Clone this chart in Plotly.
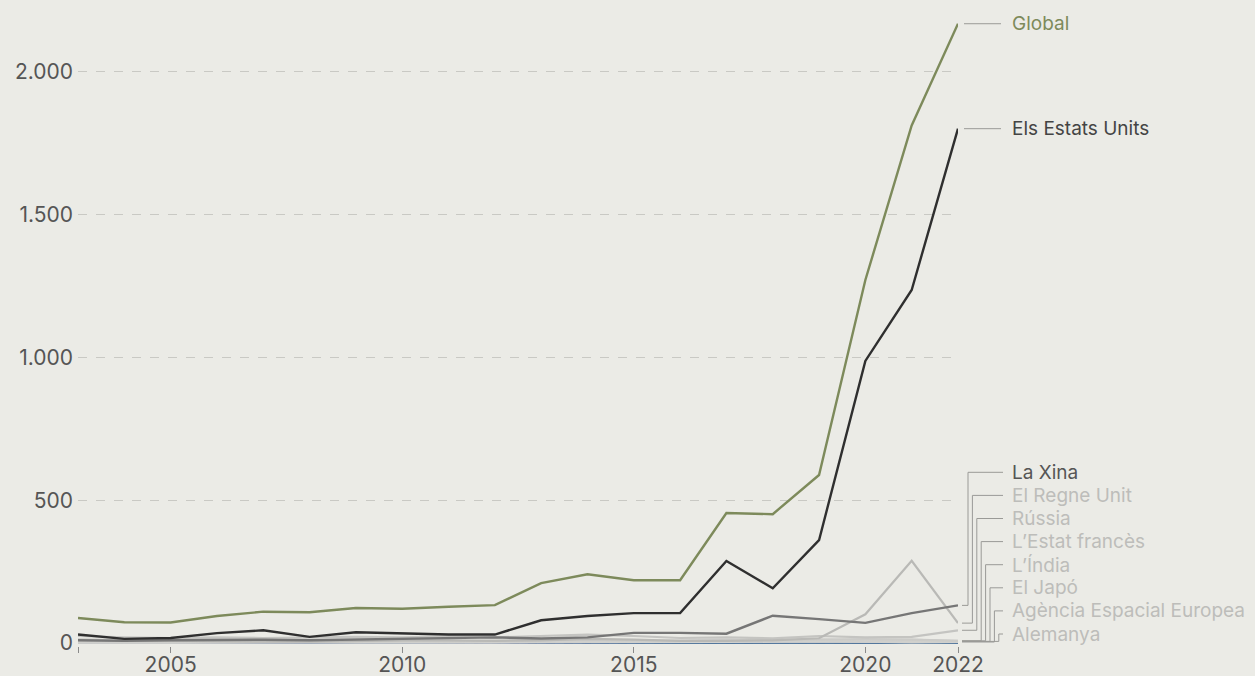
import plotly.graph_objects as go

years = list(range(2003, 2023))

global_vals = [88, 73, 72, 95, 110, 108, 123, 120, 127, 133, 210, 241, 220, 220, 455, 451, 588, 1270, 1810, 2166]
us_vals = [30, 15, 18, 35, 45, 22, 38, 34, 30, 30, 80, 95, 105, 105, 287, 192, 360, 987, 1235, 1799]
china_vals = [10, 8, 10, 12, 12, 10, 12, 16, 18, 20, 16, 20, 36, 36, 33, 96, 84, 71, 105, 132]
uk_vals = [12, 10, 8, 6, 5, 5, 8, 10, 10, 8, 10, 15, 12, 8, 8, 10, 17, 101, 288, 70]
russia_vals = [25, 20, 18, 20, 18, 20, 22, 20, 24, 20, 25, 30, 25, 18, 20, 17, 25, 20, 22, 45]
france_vals = [10, 8, 8, 6, 8, 8, 10, 10, 6, 8, 10, 12, 10, 8, 10, 12, 14, 14, 12, 8]
india_vals = [2, 2, 2, 2, 2, 2, 2, 3, 4, 4, 4, 5, 5, 8, 10, 7, 10, 5, 10, 8]
japan_vals = [4, 3, 3, 4, 5, 5, 6, 4, 5, 4, 5, 6, 6, 8, 8, 10, 12, 10, 12, 6]
esa_vals = [3, 2, 3, 3, 4, 4, 3, 4, 3, 3, 4, 5, 4, 5, 5, 5, 6, 5, 3, 4]
germany_vals = [2, 2, 2, 2, 2, 2, 3, 4, 3, 3, 4, 4, 4, 4, 4, 5, 6, 5, 4, 6]
other_teal = [1, 1, 1, 1, 1, 1, 1, 2, 5, 6, 2, 1, 1, 1, 1, 1, 1, 1, 1, 1]
other_navy = [0, 0, 0, 0, 0, 0, 0, 0, 0, 0, 0, 0, 0, 1, 0, 0, 0, 1, 1, 1]

y_ticks = [0, 500, 1000, 1500, 2000]
y_tick_text = ["0", "500", "1.000", "1.500", "2.000"]
x_ticks = [2003, 2005, 2010, 2015, 2020, 2022]
x_tick_text = ["", "2005", "2010", "2015", "2020", "2022"]

BG = "#EBEBE6"
OLIVE = "#7D8A5B"
FONT = "Inter, Lato, sans-serif"

# (name, values, line colour, line width, label colour)
top_series = [
    ("Global", global_vals, OLIVE, 2.4, OLIVE),
    ("Els Estats Units", us_vals, "#2f2f2f", 2.4, "#444444"),
]
bottom_series = [
    ("La Xina", china_vals, "#767676", 2.4, "#555555"),
    ("El Regne Unit", uk_vals, "#b9b9b6", 2.2, "#bdbdba"),
    ("Rússia", russia_vals, "#c4c4c1", 2.2, "#bdbdba"),
    ("L’Estat francès", france_vals, "#cbcbc8", 2.2, "#bdbdba"),
    ("L’Índia", india_vals, "#cfcfcc", 2.2, "#bdbdba"),
    ("El Japó", japan_vals, "#d2d2cf", 2.2, "#bdbdba"),
    ("Agència Espacial Europea", esa_vals, "#d0d0cd", 2.2, "#bdbdba"),
    ("Alemanya", germany_vals, "#d4d4d1", 2.2, "#bdbdba"),
]

fig = go.Figure()

fig.add_trace(go.Scatter(x=years, y=other_teal, mode="lines", line=dict(color="#8fcfbd", width=1.6),
                         showlegend=False, hoverinfo="skip"))
fig.add_trace(go.Scatter(x=years, y=other_navy, mode="lines", line=dict(color="#3b5a92", width=1.6),
                         showlegend=False, hoverinfo="skip"))
for name, vals, col, w, _ in reversed(bottom_series):
    fig.add_trace(go.Scatter(x=years, y=vals, mode="lines", name=name,
                             line=dict(color=col, width=w), showlegend=False))
for name, vals, col, w, _ in reversed(top_series):
    fig.add_trace(go.Scatter(x=years, y=vals, mode="lines", name=name,
                             line=dict(color=col, width=w), showlegend=False))

# geometry
W, H = 1255, 676
ML, MR, MT, MB = 78, 297, 14, 30
y_min, y_max = -10, 2200
plot_w = W - ML - MR
plot_h = H - MT - MB


def px_to_paper_x(px):
    return (px - ML) / plot_w


def px_to_y(py):
    return y_min + (H - MB - py) / plot_h * (y_max - y_min)


shapes = []
annotations = []
leader_col = "#9a9a97"
text_x = px_to_paper_x(1010)

# top labels: straight leaders
for name, vals, col, w, lcol in top_series:
    yv = vals[-1]
    shapes.append(dict(type="line", xref="paper", yref="y", x0=px_to_paper_x(964), x1=px_to_paper_x(1001),
                       y0=yv, y1=yv, line=dict(color=leader_col, width=1)))
    annotations.append(dict(x=text_x, y=yv, xref="paper", yref="y", text=name, showarrow=False,
                            xanchor="left", yanchor="middle", font=dict(size=19, color=lcol, family=FONT)))

# bottom labels: elbow leaders
n = len(bottom_series)
bottom_label_px = 634
spacing = 23.1
for i, (name, vals, col, w, lcol) in enumerate(bottom_series):
    label_py = bottom_label_px - (n - 1 - i) * spacing
    label_y = px_to_y(label_py)
    yv = vals[-1]
    vx = 968 + i * 4.4
    shapes.append(dict(type="line", xref="paper", yref="y", x0=px_to_paper_x(962), x1=px_to_paper_x(vx),
                       y0=yv, y1=yv, line=dict(color=leader_col, width=1)))
    shapes.append(dict(type="line", xref="paper", yref="y", x0=px_to_paper_x(vx), x1=px_to_paper_x(vx),
                       y0=yv, y1=label_y, line=dict(color=leader_col, width=1)))
    shapes.append(dict(type="line", xref="paper", yref="y", x0=px_to_paper_x(vx), x1=px_to_paper_x(1003),
                       y0=label_y, y1=label_y, line=dict(color=leader_col, width=1)))
    annotations.append(dict(x=text_x, y=label_y, xref="paper", yref="y", text=name, showarrow=False,
                            xanchor="left", yanchor="middle", font=dict(size=19, color=lcol, family=FONT)))

fig.update_layout(
    width=W, height=H, autosize=False,
    margin=dict(l=ML, r=MR, t=MT, b=MB, autoexpand=False),
    paper_bgcolor=BG, plot_bgcolor=BG,
    font=dict(family=FONT, color="#555555", size=21),
    shapes=shapes, annotations=annotations,
    showlegend=False,
)
fig.update_xaxes(range=[2003, 2022], tickvals=x_ticks, ticktext=x_tick_text, showgrid=False, automargin=False,
                 zeroline=False, showline=False, ticks="outside", ticklen=6, tickwidth=1, tickcolor="#8a8a8a",
                 ticklabelstandoff=-6, tickfont=dict(size=21, color="#555555"))
fig.update_yaxes(range=[y_min, y_max], tickvals=y_ticks, ticktext=y_tick_text, showgrid=True, automargin=False,
                 gridcolor="#c9c9c4", griddash="dash", gridwidth=1, zeroline=False, showline=False,
                 ticks="", ticklabelstandoff=4, tickfont=dict(size=21, color="#555555"))

fig.write_html(
    "out.html",
    config={"displayModeBar": False, "responsive": False},
    default_width="1255px", default_height="676px",
    post_script="document.body.style.margin='0';document.body.style.overflow='hidden';"
                "document.body.style.background='#EBEBE6';",
)
